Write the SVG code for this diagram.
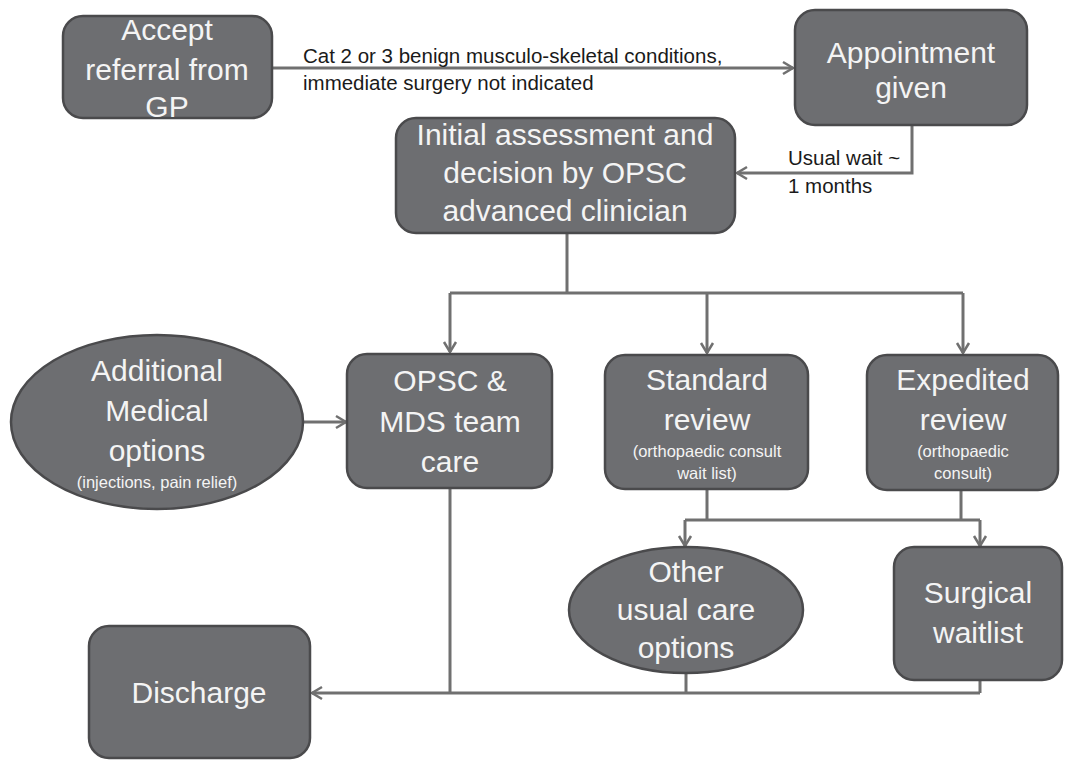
<svg xmlns="http://www.w3.org/2000/svg" width="1065" height="760" viewBox="0 0 1065 760">
<defs>
<marker id="arr" markerUnits="userSpaceOnUse" markerWidth="16" markerHeight="16" viewBox="0 0 16 16" refX="14" refY="8" orient="auto">
<path d="M4,2 L14,8 L4,14" fill="none" stroke="#707070" stroke-width="2.5"/>
</marker>
<style>
.box{fill:#6d6e71;stroke:#4a4a4c;stroke-width:2.5}
.t{font-family:"Liberation Sans",Arial,sans-serif;fill:#f4f4f4;text-anchor:middle}
.big{font-size:30px}
.sm{font-size:16.5px}
.lbl{font-family:"Liberation Sans",Arial,sans-serif;fill:#1a1a1a;font-size:20.5px}
.c{fill:none;stroke:#707070;stroke-width:3}
</style>
</defs>
<rect width="1065" height="760" fill="#ffffff"/>

<g id="connectors">
<path class="c" d="M272,68 H793" marker-end="url(#arr)"/>
<path class="c" d="M912,125 V173 H737" marker-end="url(#arr)"/>
<path class="c" d="M567,233 V293 M450,293 H963"/>
<path class="c" d="M450,293 V352" marker-end="url(#arr)"/>
<path class="c" d="M707,293 V353" marker-end="url(#arr)"/>
<path class="c" d="M963,293 V353" marker-end="url(#arr)"/>
<path class="c" d="M303,422 H346" marker-end="url(#arr)"/>
<path class="c" d="M707,489 V520 M961,490 V520 M685,520 H980"/>
<path class="c" d="M685,520 V546" marker-end="url(#arr)"/>
<path class="c" d="M980,520 V546" marker-end="url(#arr)"/>
<path class="c" d="M450,488 V693 M686,673 V693 M980,680 V693"/>
<path class="c" d="M980,693 H312" marker-end="url(#arr)"/>
<text class="lbl" x="303" y="63">Cat 2 or 3 benign musculo-skeletal conditions,</text>
<text class="lbl" x="303" y="90">immediate surgery not indicated</text>
<text class="lbl" x="788" y="165">Usual wait ~</text>
<text class="lbl" x="788" y="193">1 months</text>
</g>

<g id="accept">
<rect class="box" x="63" y="16" width="209" height="102" rx="20"/>
<text class="t big" x="167" y="40">Accept</text>
<text class="t big" x="167" y="80">referral from</text>
<text class="t big" x="167" y="117">GP</text>
</g>

<g id="appointment">
<rect class="box" x="795" y="10" width="232" height="115" rx="20"/>
<text class="t big" x="911" y="63">Appointment</text>
<text class="t big" x="911" y="98">given</text>
</g>

<g id="initial">
<rect class="box" x="396" y="118" width="339" height="115" rx="20"/>
<text class="t big" x="565" y="145">Initial assessment and</text>
<text class="t big" x="565" y="183">decision by OPSC</text>
<text class="t big" x="565" y="221">advanced clinician</text>
</g>

<g id="additional">
<ellipse class="box" cx="157" cy="422" rx="146" ry="87"/>
<text class="t big" x="157" y="381">Additional</text>
<text class="t big" x="157" y="421">Medical</text>
<text class="t big" x="157" y="461">options</text>
<text class="t sm" x="157" y="488">(injections, pain relief)</text>
</g>

<g id="opsc">
<rect class="box" x="347" y="354" width="205" height="134" rx="20"/>
<text class="t big" x="450" y="391">OPSC &amp;</text>
<text class="t big" x="450" y="432">MDS team</text>
<text class="t big" x="450" y="472">care</text>
</g>

<g id="standard">
<rect class="box" x="605" y="355" width="203" height="134" rx="20"/>
<text class="t big" x="707" y="390">Standard</text>
<text class="t big" x="707" y="430">review</text>
<text class="t sm" x="707" y="457">(orthopaedic consult</text>
<text class="t sm" x="707" y="479">wait list)</text>
</g>

<g id="expedited">
<rect class="box" x="867" y="355" width="191" height="135" rx="20"/>
<text class="t big" x="963" y="390">Expedited</text>
<text class="t big" x="963" y="430">review</text>
<text class="t sm" x="963" y="457">(orthopaedic</text>
<text class="t sm" x="963" y="479">consult)</text>
</g>

<g id="other">
<ellipse class="box" cx="686" cy="610" rx="117" ry="63"/>
<text class="t big" x="686" y="582">Other</text>
<text class="t big" x="686" y="620">usual care</text>
<text class="t big" x="686" y="658">options</text>
</g>

<g id="surgical">
<rect class="box" x="894" y="547" width="168" height="133" rx="20"/>
<text class="t big" x="978" y="603">Surgical</text>
<text class="t big" x="978" y="643">waitlist</text>
</g>

<g id="discharge">
<rect class="box" x="89" y="626" width="221" height="132" rx="20"/>
<text class="t big" x="199" y="703">Discharge</text>
</g>
</svg>
